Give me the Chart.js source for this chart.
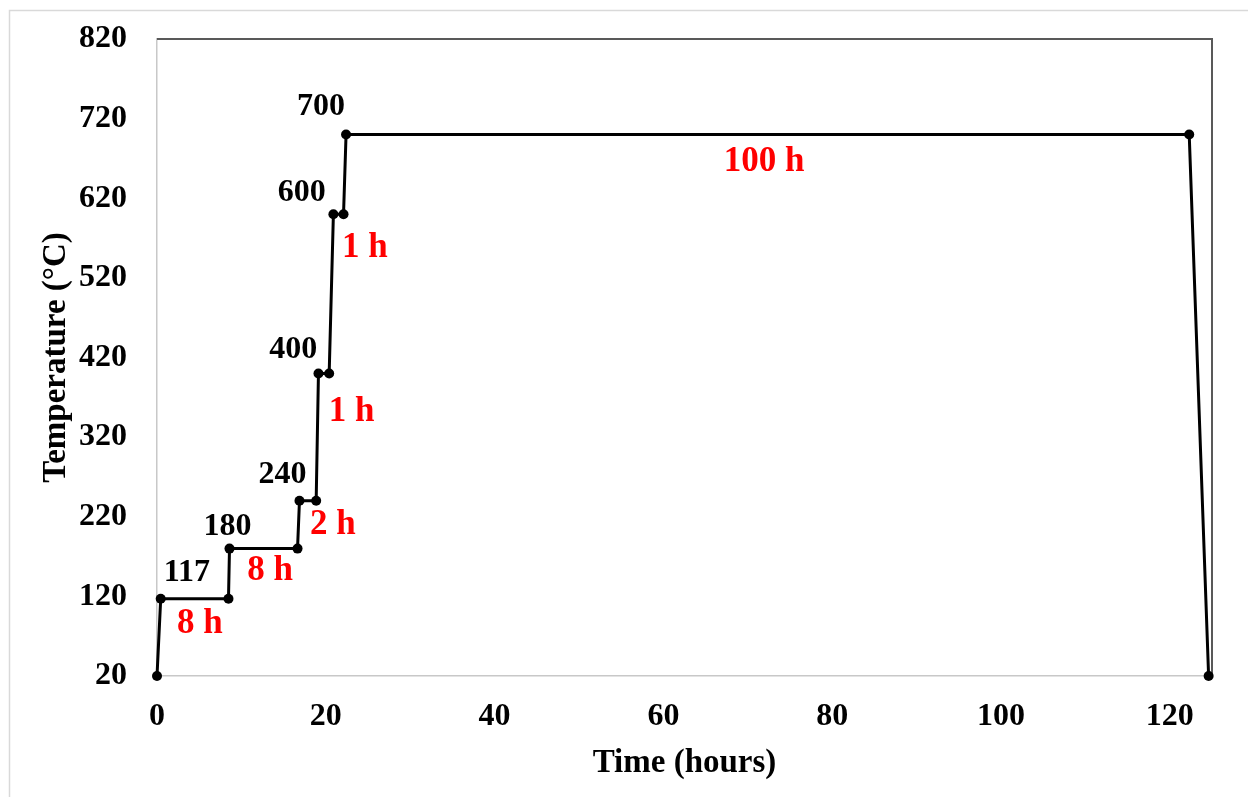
<!DOCTYPE html>
<html>
<head>
<meta charset="utf-8">
<script src="https://cdn.jsdelivr.net/npm/chart.js@4.4.1/dist/chart.umd.min.js"></script>
<style>
  html, body { margin: 0; padding: 0; background: #ffffff; }
  #wrap { width: 1248px; height: 797px; position: relative; }
</style>
</head>
<body>
<div id="wrap"><canvas id="chart" width="1248" height="797"></canvas></div>
<script>
// Heat-treatment schedule: time (h) vs furnace temperature (°C)
const timeHours = [0, 0.44, 8.47, 8.59, 16.65, 16.88, 18.86, 19.13, 20.4, 20.9, 22.1, 22.4, 122.3, 124.6];
const temperatureC = [20, 117, 117, 180, 180, 240, 240, 400, 400, 600, 600, 700, 700, 20];

const xTicks = [0, 20, 40, 60, 80, 100, 120];
const yTicks = [20, 120, 220, 320, 420, 520, 620, 720, 820];

// Step temperatures written next to the curve
const stepLabels = ['117', '180', '240', '400', '600', '700'];
const stepLabelX = [3.55, 8.35, 14.87, 16.15, 17.14, 19.43];
const stepLabelY = [150.2, 207.8, 272.8, 430, 626.3, 735.1];

// Hold durations written in red
const holdLabels = ['8 h', '8 h', '2 h', '1 h', '1 h', '100 h'];
const holdLabelX = [5.09, 13.39, 20.85, 23.07, 24.64, 71.92];
const holdLabelY = [85.4, 151.4, 210, 351.4, 557.1, 665.9];

const FONT = '"Liberation Serif", "Times New Roman", serif';

const points = timeHours.map((t, i) => ({ x: t, y: temperatureC[i] }));

const annotate = {
  id: 'annotate',
  beforeDraw(chart) {
    const ctx = chart.ctx;
    ctx.save();
    ctx.fillStyle = '#ffffff';
    ctx.fillRect(0, 0, chart.width, chart.height);
    // outer frame
    ctx.strokeStyle = '#d9d9d9';
    ctx.lineWidth = 1.5;
    ctx.beginPath();
    ctx.moveTo(9.5, chart.height);
    ctx.lineTo(9.5, 10.5);
    ctx.lineTo(chart.width, 10.5);
    ctx.stroke();
    ctx.restore();
  },
  beforeDatasetsDraw(chart) {
    const ctx = chart.ctx;
    const a = chart.chartArea;
    ctx.save();
    ctx.strokeStyle = '#595959';
    ctx.lineWidth = 2;
    ctx.beginPath();
    ctx.moveTo(a.left, a.top);
    ctx.lineTo(a.right, a.top);
    ctx.lineTo(a.right, a.bottom);
    ctx.stroke();
    ctx.restore();
  },
  afterDatasetsDraw(chart) {
    const ctx = chart.ctx;
    const xs = chart.scales.x, ys = chart.scales.y;
    ctx.save();
    ctx.textAlign = 'center';
    ctx.textBaseline = 'middle';
    ctx.font = 'bold 32px ' + FONT;
    ctx.fillStyle = '#000000';
    stepLabels.forEach((s, i) => {
      ctx.fillText(s, xs.getPixelForValue(stepLabelX[i]), ys.getPixelForValue(stepLabelY[i]));
    });
    ctx.font = 'bold 35px ' + FONT;
    ctx.fillStyle = '#ff0000';
    holdLabels.forEach((s, i) => {
      ctx.fillText(s, xs.getPixelForValue(holdLabelX[i]), ys.getPixelForValue(holdLabelY[i]));
    });
    ctx.restore();
  }
};

new Chart(document.getElementById('chart'), {
  type: 'scatter',
  data: {
    datasets: [{
      data: points,
      showLine: true,
      clip: false,
      borderColor: '#000000',
      borderWidth: 3,
      backgroundColor: '#000000',
      pointRadius: 5,
      pointHoverRadius: 5,
      pointBorderWidth: 0,
      tension: 0
    }]
  },
  options: {
    responsive: false,
    animation: false,
    devicePixelRatio: 1,
    layout: { padding: { left: 0, top: 39, right: 36, bottom: 0 } },
    plugins: {
      legend: { display: false },
      tooltip: { enabled: false }
    },
    scales: {
      x: {
        type: 'linear',
        min: 0,
        max: 125,
        afterBuildTicks(scale) { scale.ticks = xTicks.map(v => ({ value: v })); },
        afterFit(scale) {
          scale.height = 121;
          scale.paddingLeft = 0;
          scale.paddingRight = 0;
        },
        grid: { display: false, drawTicks: false },
        border: { display: true, color: '#c8c8c8', width: 1.5 },
        ticks: {
          padding: 22,
          color: '#000000',
          font: { family: FONT, size: 32, weight: 'bold' }
        },
        title: {
          display: true,
          text: 'Time (hours)',
          color: '#000000',
          font: { family: FONT, size: 33, weight: 'bold' },
          padding: { top: 0, bottom: 14 }
        }
      },
      y: {
        type: 'linear',
        min: 20,
        max: 820,
        afterBuildTicks(scale) { scale.ticks = yTicks.map(v => ({ value: v })); },
        afterFit(scale) {
          scale.width = 157;
          scale.paddingTop = 0;
          scale.paddingBottom = 0;
        },
        grid: { display: false, drawTicks: false },
        border: { display: true, color: '#c8c8c8', width: 1.5 },
        ticks: {
          padding: 30,
          color: '#000000',
          font: { family: FONT, size: 32, weight: 'bold' }
        },
        title: {
          display: true,
          text: 'Temperature (°C)',
          color: '#000000',
          font: { family: FONT, size: 33, weight: 'bold' },
          padding: { top: 37, bottom: 0 }
        }
      }
    }
  },
  plugins: [annotate]
});
</script>
</body>
</html>
